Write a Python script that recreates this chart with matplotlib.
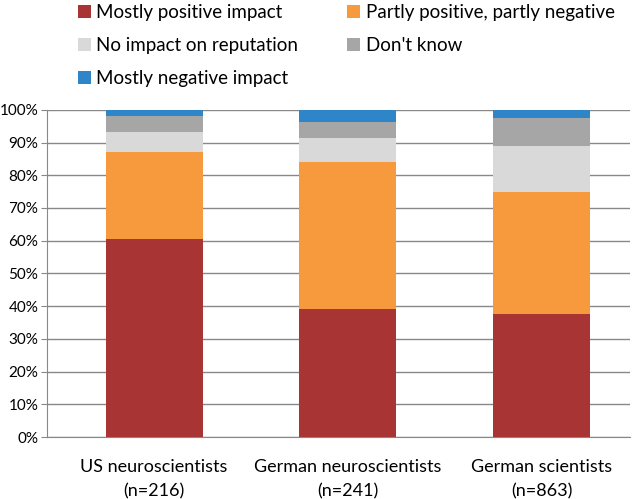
import numpy as np
import matplotlib.pyplot as plt

plt.rcParams['font.family'] = ['Lato', 'DejaVu Sans']

groups = ['US neuroscientists\n(n=216)', 'German neuroscientists\n(n=241)', 'German scientists\n(n=863)']
labels = ['Mostly positive impact', 'Partly positive, partly negative',
          'No impact on reputation', "Don't know", 'Mostly negative impact']
colors = ['#A93434', '#F79A3E', '#D9D9D9', '#A6A6A6', '#2E86C8']

mostly_pos = [60.5, 39.0, 37.5]
partly = [26.5, 45.0, 37.5]
no_impact = [6.3, 7.3, 13.8]
dont_know = [4.7, 5.0, 8.7]
mostly_neg = [2.0, 3.7, 2.5]
series = [mostly_pos, partly, no_impact, dont_know, mostly_neg]

fig = plt.figure(figsize=(6.4, 4.99), dpi=100)
ax = fig.add_axes([0.073, 0.124, 0.911, 0.656])

x = np.arange(len(groups))
bottom = np.zeros(len(groups))
handles = []
for vals, lab, col in zip(series, labels, colors):
    h = ax.bar(x, vals, 0.5, bottom=bottom, color=col, label=lab, zorder=3)
    handles.append(h)
    bottom += np.array(vals)

ax.set_ylim(0, 100)
ax.set_xlim(-0.554, 2.454)
ax.set_yticks(np.arange(0, 101, 10))
ax.set_yticklabels([f'{v}%' for v in range(0, 101, 10)], fontsize=11)
ax.set_xticks(x)
ax.set_xticklabels(groups, fontsize=13, linespacing=1.6)
ax.tick_params(axis='x', length=0, pad=16)
ax.tick_params(axis='y', length=4, color='#888888', pad=2)
ax.yaxis.grid(True, color='#888888', linewidth=1, zorder=0)
for s in ['top', 'right']:
    ax.spines[s].set_visible(False)
ax.spines['left'].set_color('#888888')
ax.spines['bottom'].set_color('#888888')

order = [0, 2, 4, 1, 3]
fig.legend([handles[i] for i in order], [labels[i] for i in order],
           ncol=2, loc='upper left', bbox_to_anchor=(0.095, 1.025), frameon=False,
           fontsize=13.5, handlelength=0.7, handleheight=0.7, handletextpad=0.3,
           columnspacing=2.6, labelspacing=0.85)

fig.savefig('out.png', dpi=100)
